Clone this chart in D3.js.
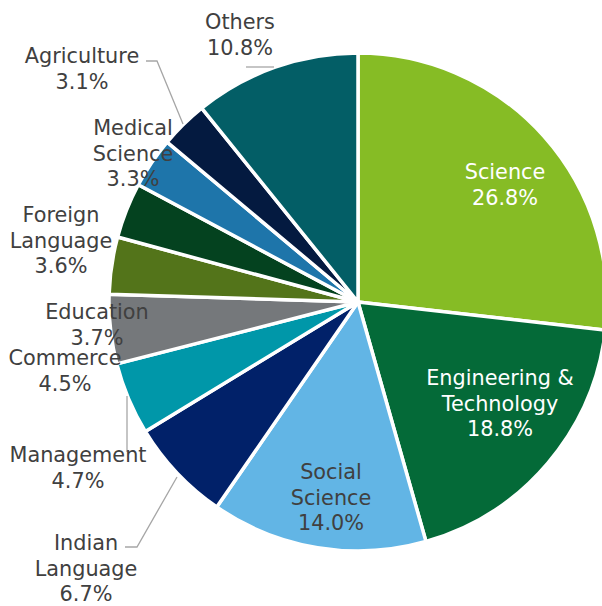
<!DOCTYPE html>
<html>
<head>
<meta charset="utf-8">
<script src="https://cdn.jsdelivr.net/npm/d3@7"></script>
<style>
  html, body { margin: 0; padding: 0; background: #fff; }
  svg { display: block; }
  text { font-family: "DejaVu Sans", Verdana, sans-serif; font-size: 20.8px; }
</style>
</head>
<body>
<svg id="chart" width="602" height="606"></svg>
<script>
// Share of enrolment by discipline (%), clockwise from 12 o'clock
const categories = ["Science", "Engineering &\nTechnology", "Social\nScience", "Indian\nLanguage",
  "Management", "Commerce", "Education", "Foreign\nLanguage", "Medical\nScience", "Agriculture", "Others"];
const shares = [26.8, 18.8, 14.0, 6.7, 4.7, 4.5, 3.7, 3.6, 3.3, 3.1, 10.8];

const sliceColors = ["#86bc25", "#046a38", "#62b5e5", "#012169", "#0097a9", "#75787b",
  "#53741a", "#04421f", "#1e75aa", "#041a40", "#035e66"];
const labelColors = ["#fff", "#fff", "#404040", "#404040", "#404040", "#404040",
  "#404040", "#404040", "#404040", "#404040", "#404040"];

// label block placement (centre x, first baseline y) and optional leader lines
const labelLayout = [
  { x: 505, y: 179 },
  { x: 500, y: 385 },
  { x: 331, y: 479 },
  { x: 86,  y: 550, leader: [[125, 547], [137, 547], [177, 477]] },
  { x: 78,  y: 462, leader: [[127, 452], [127, 396]] },
  { x: 65,  y: 365 },
  { x: 97,  y: 319 },
  { x: 61,  y: 222 },
  { x: 133, y: 135 },
  { x: 82,  y: 63,  leader: [[146, 61], [157, 61], [183, 124]] },
  { x: 240, y: 29,  leader: [[246, 67], [274, 67]] }
];

const cx = 358, cy = 302, radius = 249, lineGap = 25.5;

const svg = d3.select("#chart");
const data = categories.map((c, i) => ({ name: c, value: shares[i], i }));

const pie = d3.pie().value(d => d.value).sort(null);
const arc = d3.arc().innerRadius(0).outerRadius(radius);

const g = svg.append("g").attr("transform", `translate(${cx},${cy})`);

g.selectAll("path.slice")
  .data(pie(data))
  .join("path")
  .attr("class", "slice")
  .attr("d", arc)
  .attr("fill", d => sliceColors[d.data.i])
  .attr("stroke", "#fff")
  .attr("stroke-width", 3.5)
  .attr("stroke-linejoin", "round");

// leader lines
const line = d3.line();
svg.selectAll("path.leader")
  .data(labelLayout.filter(l => l.leader))
  .join("path")
  .attr("class", "leader")
  .attr("d", l => line(l.leader))
  .attr("fill", "none")
  .attr("stroke", "#a6a6a6")
  .attr("stroke-width", 1.3);

// labels: name lines followed by the percentage
const labels = svg.selectAll("text.label")
  .data(data)
  .join("text")
  .attr("class", "label")
  .attr("text-anchor", "middle")
  .attr("fill", d => labelColors[d.i]);

labels.each(function(d) {
  const t = d3.select(this);
  const pos = labelLayout[d.i];
  const lines = d.name.split("\n").concat([d.value.toFixed(1) + "%"]);
  lines.forEach((s, k) => {
    t.append("tspan").attr("x", pos.x).attr("y", pos.y + k * lineGap).text(s);
  });
});
</script>
</body>
</html>
